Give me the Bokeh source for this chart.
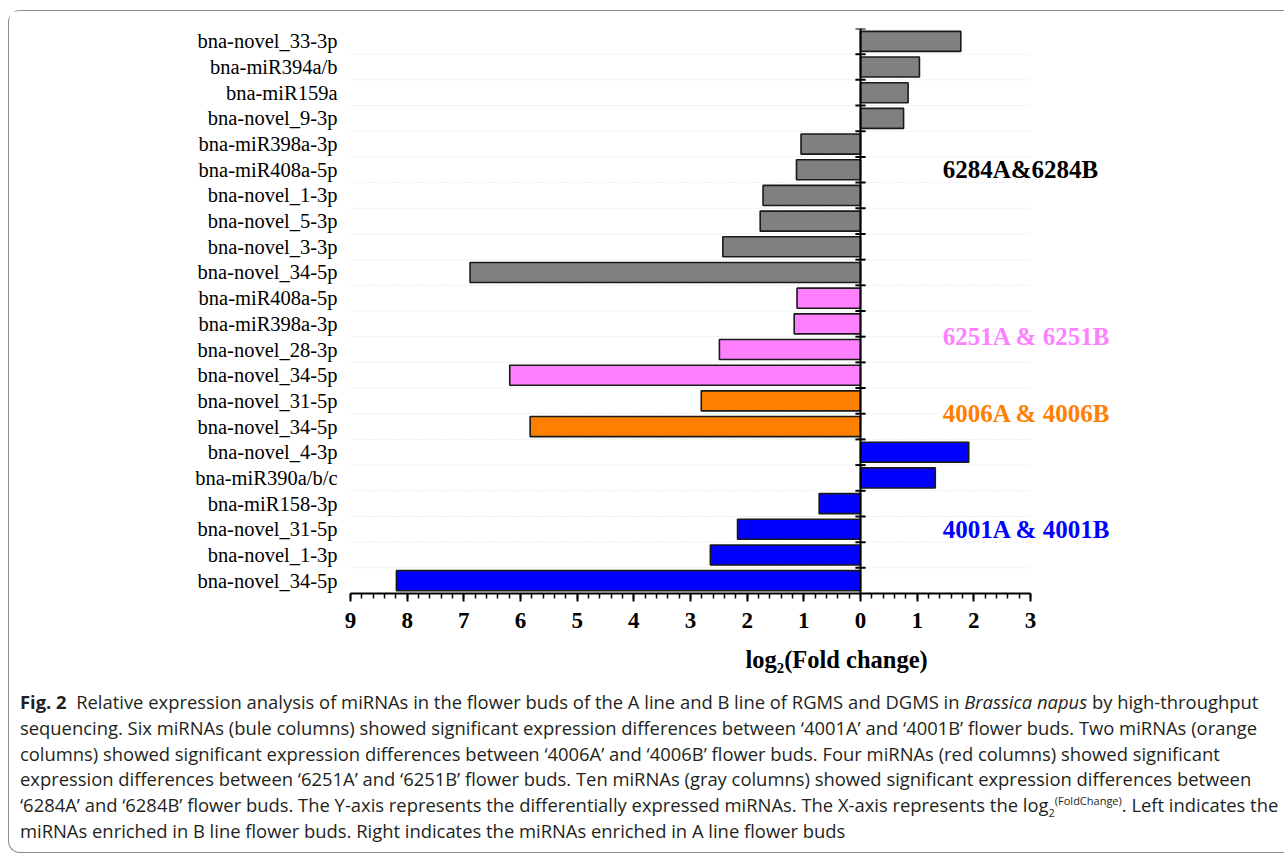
from bokeh.plotting import figure
from bokeh.models import (ColumnDataSource, Range1d, FixedTicker, SingleIntervalTicker,
                          Span, Title, Div)
from bokeh.layouts import column
from bokeh.core.properties import value
from bokeh.embed import file_html
from bokeh.resources import INLINE

# ---------------- data (top-to-bottom order as in the chart) ----------------
mirnas = [
    "bna-novel_33-3p", "bna-miR394a/b", "bna-miR159a", "bna-novel_9-3p",
    "bna-miR398a-3p", "bna-miR408a-5p", "bna-novel_1-3p", "bna-novel_5-3p",
    "bna-novel_3-3p", "bna-novel_34-5p",
    "bna-miR408a-5p", "bna-miR398a-3p", "bna-novel_28-3p", "bna-novel_34-5p",
    "bna-novel_31-5p", "bna-novel_34-5p",
    "bna-novel_4-3p", "bna-miR390a/b/c", "bna-miR158-3p", "bna-novel_31-5p",
    "bna-novel_1-3p", "bna-novel_34-5p",
]
log2fc = [
    1.77, 1.04, 0.84, 0.76,
    -1.05, -1.13, -1.72, -1.77, -2.43, -6.89,
    -1.12, -1.17, -2.49, -6.19,
    -2.81, -5.83,
    1.91, 1.32, -0.73, -2.17, -2.65, -8.19,
]
groups = (["6284A&6284B"] * 10 + ["6251A & 6251B"] * 4 +
          ["4006A & 4006B"] * 2 + ["4001A & 4001B"] * 6)
group_names = ["6284A&6284B", "6251A & 6251B", "4006A & 4006B", "4001A & 4001B"]
x_tick_values = [-9, -8, -7, -6, -5, -4, -3, -2, -1, 0, 1, 2, 3]
x_tick_labels = ["9", "8", "7", "6", "5", "4", "3", "2", "1", "0", "1", "2", "3"]
x_axis_title = "log\u2082(Fold change)"

# ---------------- styles ----------------
group_colors = {"6284A&6284B": "#808080", "6251A & 6251B": "#FF80FF",
                "4006A & 4006B": "#FF8000", "4001A & 4001B": "#0000FF"}
label_text_colors = {"6284A&6284B": "#000000", "6251A & 6251B": "#FF80FF",
                     "4006A & 4006B": "#FF8000", "4001A & 4001B": "#0000FF"}
# anchor rows (in category units from bottom) for the group annotations
label_anchor_y = {"6284A&6284B": 16.5, "6251A & 6251B": 10.0,
                  "4006A & 4006B": 7.0, "4001A & 4001B": 2.5}
label_anchor_x = 1.45

X_MIN, X_MAX = x_tick_values[0], x_tick_values[-1]
N = len(mirnas)
ypos = [N - i - 0.5 for i in range(N)]

src = ColumnDataSource(dict(
    y=ypos, right=log2fc, name=mirnas,
    color=[group_colors[g] for g in groups],
))

# frame extends to the right of the axis so that the group captions fit inside it
p = figure(width=1275, height=675, x_range=Range1d(X_MIN, X_MAX + 1.8), y_range=Range1d(0, N),
           output_backend="svg", toolbar_location=None,
           min_border_left=341, min_border_right=152, min_border_top=17,
           min_border_bottom=93)
p.outline_line_color = None
p.background_fill_color = "white"
p.border_fill_color = "white"
p.grid.visible = False

# faint dotted horizontal lines at category boundaries (limited to the axis extent)
gb = list(range(1, N))
p.segment(x0=[X_MIN] * len(gb), x1=[X_MAX] * len(gb), y0=gb, y1=gb,
          line_color="#dcdcdc", line_dash="1 2", line_width=1)

p.hbar(y="y", right="right", left=0, height=0.78, source=src,
       fill_color="color", line_color="#1a1a1a", line_width=1.6)

# vertical zero axis with crossing ticks at category boundaries
p.add_layout(Span(location=0, dimension="height", line_color="black", line_width=2))
bounds = list(range(1, N + 1))
p.segment(x0=[-0.09] * len(bounds), x1=[0.09] * len(bounds), y0=bounds, y1=bounds,
          line_color="black", line_width=2)

# y axis: category labels
yax = p.yaxis[0]
yax.ticker = FixedTicker(ticks=ypos)
yax.major_label_overrides = {y: n for y, n in zip(ypos, mirnas)}
yax.axis_line_color = None
yax.major_tick_line_color = None
yax.minor_tick_line_color = None
yax.major_tick_out = 0
yax.major_tick_in = 0
yax.major_label_standoff = 13
yax.major_label_text_font = "Liberation Serif"
yax.major_label_text_font_size = "20.5px"
yax.major_label_text_color = "black"

# x axis
xax = p.xaxis[0]
xax.bounds = (X_MIN, X_MAX)
xax.ticker = SingleIntervalTicker(interval=1, num_minor_ticks=5)
xax.major_label_overrides = {v: t for v, t in zip(x_tick_values, x_tick_labels)}
xax.axis_line_width = 2
xax.axis_line_color = "black"
xax.major_tick_line_width = 2
xax.major_tick_line_color = "black"
xax.major_tick_out = 8
xax.major_tick_in = 0
xax.minor_tick_out = 5
xax.minor_tick_in = 0
xax.minor_tick_line_width = 1.5
xax.minor_tick_line_color = "black"
xax.major_label_standoff = 11
xax.major_label_text_font = "Liberation Serif"
xax.major_label_text_font_style = "bold"
xax.major_label_text_font_size = "23px"
xax.major_label_text_color = "black"

# axis title (placed below, shifted right as in the original)
p.add_layout(Title(text=x_axis_title, align="left", offset=395, standoff=27,
                   text_font="Liberation Serif", text_font_style="bold",
                   text_font_size="24.5px", text_color="black"), "below")

# group annotations
gsrc = ColumnDataSource(dict(
    x=[label_anchor_x] * len(group_names),
    y=[label_anchor_y[g] for g in group_names],
    text=group_names,
    color=[label_text_colors[g] for g in group_names],
))
p.text(x="x", y="y", text="text", source=gsrc, text_color="color",
       text_font=value("Liberation Serif"), text_font_style="bold",
       text_font_size="25px", text_baseline="middle", text_align="left")

caption = (
    '<div style="font-family:\'Open Sans\', sans-serif;font-size:18.4px;'
    'line-height:25.8px;margin-top:-2px;padding:0 0 0 6px;white-space:nowrap;color:#231f20;">'
    '<b>Fig. 2</b>&nbsp; Relative expression analysis of miRNAs in the flower buds of the A line '
    'and B line of RGMS and DGMS in <i>Brassica napus</i> by high-throughput<br>'
    'sequencing. Six miRNAs (bule columns) showed significant expression differences between '
    '\u20184001A\u2019 and \u20184001B\u2019 flower buds. Two miRNAs (orange<br>'
    'columns) showed significant expression differences between \u20184006A\u2019 and '
    '\u20184006B\u2019 flower buds. Four miRNAs (red columns) showed significant<br>'
    'expression differences between \u20186251A\u2019 and \u20186251B\u2019 flower buds. '
    'Ten miRNAs (gray columns) showed significant expression differences between<br>'
    '\u20186284A\u2019 and \u20186284B\u2019 flower buds. The Y-axis represents the differentially '
    'expressed miRNAs. The X-axis represents the log<sub style="font-size:11px;line-height:0">2</sub>'
    '<sup style="font-size:11px;line-height:0">(FoldChange)</sup>. Left indicates the<br>'
    'miRNAs enriched in B line flower buds. Right indicates the miRNAs enriched in A line flower buds'
    '</div>'
)
div = Div(text=caption, width=1275, height=156)

layout = column(p, div, margin=(10, 0, 0, 8),
                styles={"border-top": "1px solid #8c8c8c", "border-left": "1px solid #8c8c8c",
                        "border-bottom": "1px solid #8c8c8c",
                        "border-radius": "12px 0 0 12px", "background": "white"})

open("out.html", "w").write(file_html(layout, INLINE))
